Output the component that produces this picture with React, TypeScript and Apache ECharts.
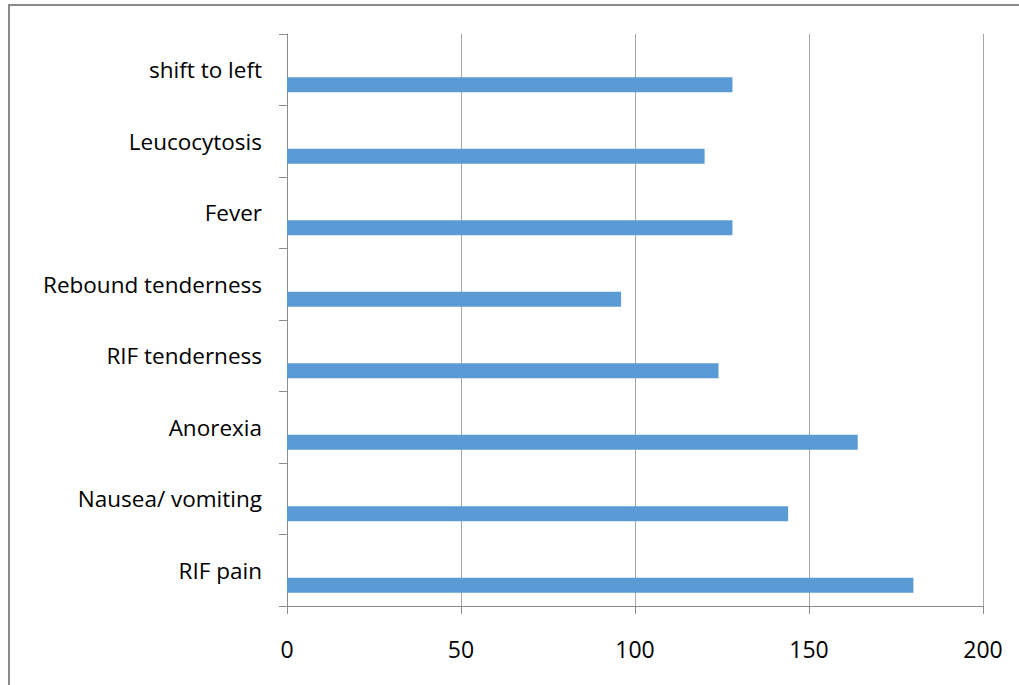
import React, { useEffect, useRef } from "react";
import * as echarts from "echarts";

// Categories listed bottom-to-top, as the category axis draws them
const symptoms = [
  "RIF pain",
  "Nausea/ vomiting",
  "Anorexia",
  "RIF tenderness",
  "Rebound tenderness",
  "Fever",
  "Leucocytosis",
  "shift to left",
];
const patientCounts = [180, 144, 164, 124, 96, 128, 120, 128];
const valueTicks = [0, 50, 100, 150, 200];

const FONT = "'Open Sans', 'Noto Sans', sans-serif";

export default function App() {
  const ref = useRef<HTMLDivElement>(null);

  useEffect(() => {
    if (!ref.current) return;
    const chart = echarts.init(ref.current, undefined, { renderer: "svg" });
    chart.setOption({
      animation: false,
      backgroundColor: "#ffffff",
      graphic: [
        {
          type: "rect",
          shape: { x: 9, y: 5, width: 1200, height: 900 },
          style: { fill: "none", stroke: "#8a8a8a", lineWidth: 2 },
          silent: true,
          z: 100,
        },
      ],
      grid: { left: 287, top: 34, width: 696, height: 572 },
      xAxis: {
        type: "value",
        min: valueTicks[0],
        max: valueTicks[valueTicks.length - 1],
        interval: valueTicks[1] - valueTicks[0],
        axisLine: { show: true, lineStyle: { color: "#8c8c8c", width: 1 } },
        axisTick: { show: true, length: 8, lineStyle: { color: "#8c8c8c" } },
        splitLine: { show: true, lineStyle: { color: "#a6a6a6", width: 1 } },
        axisLabel: { color: "#000", fontFamily: FONT, fontSize: 23, margin: 31 },
      },
      yAxis: {
        type: "category",
        data: symptoms,
        axisLine: { show: true, lineStyle: { color: "#8c8c8c", width: 1 } },
        axisTick: { show: true, length: 8, alignWithLabel: false, lineStyle: { color: "#8c8c8c" } },
        splitLine: { show: false },
        axisLabel: { color: "#000", fontFamily: FONT, fontSize: 22.5, margin: 25 },
      },
      series: [
        {
          type: "bar",
          name: "spacer",
          data: symptoms.map(() => null),
          barWidth: 15,
          barGap: "100%",
        },
        {
          type: "bar",
          name: "Patients",
          data: patientCounts,
          barWidth: 15,
          barGap: "100%",
          itemStyle: { color: "#5b9bd5" },
        },
      ],
    });
    return () => chart.dispose();
  }, []);

  return (
    <div
      ref={ref}
      style={{ position: "absolute", left: 0, top: 0, width: 1019, height: 685 }}
    />
  );
}
